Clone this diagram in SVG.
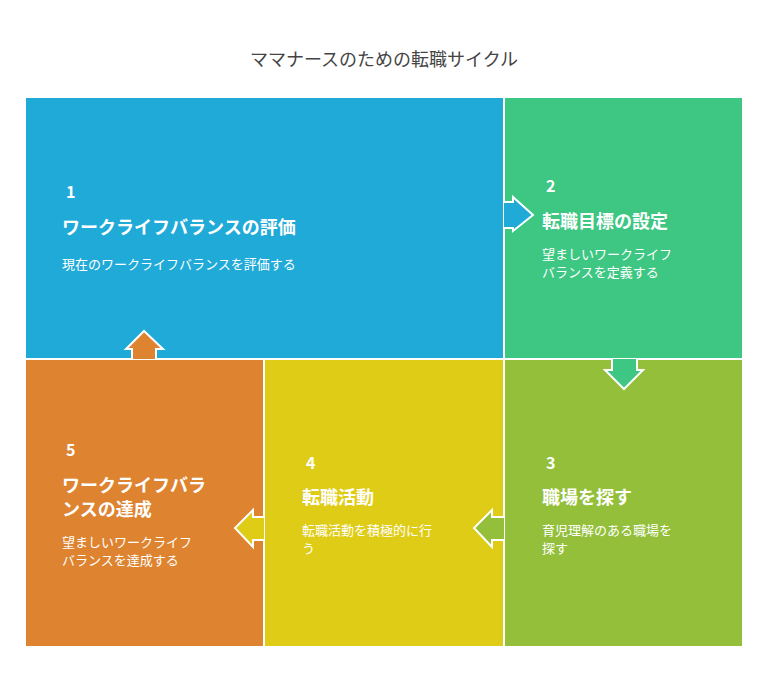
<svg xmlns="http://www.w3.org/2000/svg" width="768" height="696" viewBox="0 0 768 696">
<style>
text{font-family:"Noto Sans CJK JP","Noto Sans",sans-serif;fill:#fff}
.n{font-size:16px;font-weight:bold}
.t{font-size:18px;font-weight:bold}
.d{font-size:13px}
.p{stroke:#fff;stroke-width:2}
</style>
<rect width="768" height="696" fill="#fff"/>
<text x="384" y="66" text-anchor="middle" style="fill:#444;font-size:18px">ママナースのための転職サイクル</text>
<g id="n1"><rect class="p" x="25" y="97" width="479" height="262" fill="#1faad8"/>
<text class="n" x="66" y="198">1</text><text class="t" x="62" y="234">ワークライフバランスの評価</text><text class="d" x="62" y="269">現在のワークライフバランスを評価する</text></g>
<g id="n2"><rect class="p" x="504" y="97" width="239" height="262" fill="#3ec683"/>
<text class="n" x="546" y="192">2</text><text class="t" x="542" y="228">転職目標の設定</text><text class="d" x="542" y="259">望ましいワークライフ</text><text class="d" x="542" y="277">バランスを定義する</text></g>
<g id="n3"><rect class="p" x="504" y="359" width="239" height="288" fill="#94bf3b"/>
<text class="n" x="546" y="469">3</text><text class="t" x="542" y="504">職場を探す</text><text class="d" x="542" y="535">育児理解のある職場を</text><text class="d" x="542" y="553">探す</text></g>
<g id="n4"><rect class="p" x="264" y="359" width="240" height="288" fill="#dfcc17"/>
<text class="n" x="306" y="469">4</text><text class="t" x="302" y="504">転職活動</text><text class="d" x="302" y="535">転職活動を積極的に行</text><text class="d" x="302" y="553">う</text></g>
<g id="n5"><rect class="p" x="25" y="359" width="239" height="288" fill="#de8330"/>
<text class="n" x="66" y="456">5</text><text class="t" x="62" y="492">ワークライフバラ</text><text class="t" x="62" y="516">ンスの達成</text><text class="d" x="62" y="547">望ましいワークライフ</text><text class="d" x="62" y="565">バランスを達成する</text></g>
<g id="connectors">
<path class="p" fill="#1faad8" d="M504,202 H513 V197 L533,215 L513,231 V228 H504"/>
<path class="p" fill="#3ec683" d="M612,359 V370 H605 L624,389 L643,370 H637 V359"/>
<path class="p" fill="#94bf3b" d="M504,517 H492 V510 L474,528 L492,547 V540 H504"/>
<path class="p" fill="#dfcc17" d="M264,517 H253 V510 L235,528 L253,547 V540 H264"/>
<path class="p" fill="#de8330" d="M132,359 V349 H126 L144,331 L163,349 H156 V359"/>
</g>
</svg>
